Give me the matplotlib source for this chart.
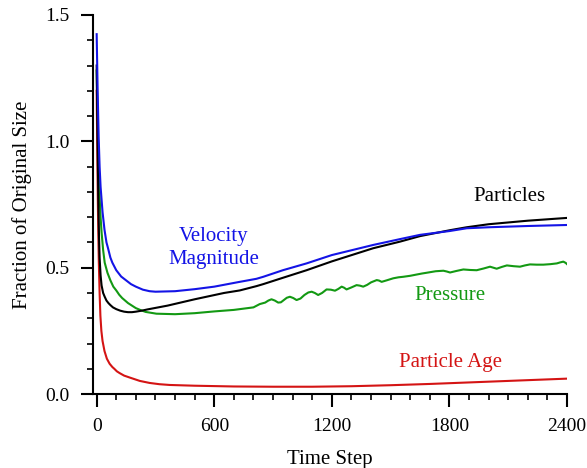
import matplotlib.pyplot as plt
from matplotlib.ticker import MultipleLocator

plt.rcParams['font.family'] = ['Liberation Serif', 'DejaVu Serif']

# Particles (black)
t_part = [0, 4, 8, 12, 15, 20, 25, 33, 41, 50, 60, 70, 83, 100, 120, 140, 160, 180, 200,
          230, 260, 362, 500, 650, 730, 815, 850, 950, 1071, 1200, 1411, 1547, 1650,
          1800, 1888, 2000, 2200, 2400]
v_part = [1.30, 1.05, 0.80, 0.62, 0.54, 0.47, 0.43, 0.40, 0.385, 0.37, 0.36, 0.352, 0.343,
          0.336, 0.33, 0.326, 0.324, 0.324, 0.326, 0.33, 0.335, 0.35, 0.375, 0.40, 0.41,
          0.427, 0.435, 0.46, 0.49, 0.525, 0.577, 0.603, 0.625, 0.648, 0.66, 0.672,
          0.686, 0.697]

# Velocity Magnitude (blue)
t_vel = [0, 5, 10, 15, 20, 24, 30, 40, 50, 57, 70, 80, 100, 125, 150, 175, 200, 236, 270,
         300, 400, 500, 600, 730, 815, 850, 950, 1071, 1200, 1411, 1547, 1650, 1800,
         1888, 2000, 2200, 2400]
v_vel = [1.424, 1.2, 1.02, 0.90, 0.82, 0.78, 0.72, 0.65, 0.60, 0.58, 0.54, 0.52, 0.49,
         0.465, 0.45, 0.435, 0.425, 0.413, 0.407, 0.405, 0.407, 0.415, 0.425, 0.444,
         0.456, 0.464, 0.49, 0.517, 0.55, 0.59, 0.613, 0.63, 0.645, 0.656, 0.66, 0.665,
         0.669]

# Pressure (green)
t_pres = [0, 5, 10, 15, 20, 25, 33, 41, 55, 70, 85, 100, 115, 130, 145, 160, 180, 200,
          225, 250, 305, 400, 500, 600, 700, 800, 832, 860, 876, 892, 909, 926, 940, 955,
          970, 986, 1003, 1020, 1040, 1060, 1080, 1097, 1113, 1130, 1150, 1173, 1195,
          1216, 1233, 1250, 1262, 1275, 1300, 1326, 1343, 1360, 1380, 1400, 1429, 1441,
          1454, 1480, 1513, 1540, 1564, 1600, 1633, 1660, 1684, 1730, 1769, 1786, 1803,
          1835, 1871, 1905, 1939, 1975, 2007, 2024, 2041, 2067, 2093, 2127, 2160, 2185,
          2211, 2245, 2279, 2315, 2348, 2365, 2381, 2393, 2400]
v_pres = [1.28, 1.05, 0.90, 0.78, 0.70, 0.64, 0.57, 0.52, 0.48, 0.45, 0.425, 0.41, 0.393,
          0.38, 0.37, 0.36, 0.35, 0.34, 0.332, 0.325, 0.318, 0.316, 0.32, 0.327, 0.333,
          0.343, 0.356, 0.362, 0.370, 0.375, 0.370, 0.362, 0.363, 0.372, 0.381, 0.385,
          0.380, 0.372, 0.378, 0.392, 0.402, 0.405, 0.400, 0.392, 0.400, 0.414, 0.413,
          0.409, 0.416, 0.425, 0.421, 0.414, 0.422, 0.431, 0.429, 0.425, 0.432, 0.442,
          0.451, 0.449, 0.444, 0.450, 0.458, 0.462, 0.464, 0.468, 0.473, 0.477, 0.480,
          0.486, 0.488, 0.485, 0.481, 0.487, 0.493, 0.491, 0.490, 0.497, 0.504, 0.500,
          0.496, 0.503, 0.509, 0.506, 0.504, 0.509, 0.513, 0.512, 0.512, 0.514, 0.517,
          0.521, 0.524, 0.519, 0.514]

# Particle Age (red)
t_age = [0, 2, 4, 6, 8, 11, 15, 19, 24, 30, 40, 52, 66, 80, 90, 103, 117, 140, 170, 220,
         270, 320, 372, 500, 700, 900, 1100, 1300, 1500, 1700, 1900, 2100, 2300, 2400]
v_age = [1.20, 1.05, 0.90, 0.76, 0.65, 0.52, 0.40, 0.31, 0.25, 0.21, 0.17, 0.14, 0.12,
         0.107, 0.10, 0.09, 0.083, 0.073, 0.065, 0.052, 0.044, 0.039, 0.036, 0.033, 0.03,
         0.029, 0.029, 0.031, 0.035, 0.04, 0.046, 0.052, 0.058, 0.061]

BLACK = '#000000'
BLUE = '#1414e6'
GREEN = '#139913'
RED = '#d41414'

fig = plt.figure(figsize=(5.87, 4.68), dpi=100)
ax = fig.add_axes([0.158, 0.158, 0.808, 0.81])

ax.plot(t_pres, v_pres, color=GREEN, lw=1.5)
ax.plot(t_age, v_age, color=RED, lw=1.5)
ax.plot(t_part, v_part, color=BLACK, lw=1.5)
ax.plot(t_vel, v_vel, color=BLUE, lw=1.5)

ax.text(2104, 0.78, 'Particles', color=BLACK, fontsize=15, ha='center', va='center')
ax.text(597, 0.578, 'Velocity\nMagnitude', color=BLUE, fontsize=15, ha='center',
        va='center', linespacing=1.35)
ax.text(1803, 0.39, 'Pressure', color=GREEN, fontsize=15, ha='center', va='center')
ax.text(1803, 0.124, 'Particle Age', color=RED, fontsize=15, ha='center', va='center')

ax.set_xlim(-20, 2400)
ax.set_ylim(0, 1.5)
ax.set_xticks([0, 600, 1200, 1800, 2400])
ax.set_yticks([0.0, 0.5, 1.0, 1.5])
ax.set_yticklabels(['0.0', '0.5', '1.0', '1.5'])
ax.xaxis.set_minor_locator(MultipleLocator(100))
ax.yaxis.set_minor_locator(MultipleLocator(0.1))

ax.spines['top'].set_visible(False)
ax.spines['right'].set_visible(False)
for s in ['left', 'bottom']:
    ax.spines[s].set_linewidth(1.5)
ax.tick_params(which='major', length=9, width=1.5, labelsize=14, direction='out', pad=8)
ax.tick_params(which='minor', length=4.5, width=1.2, direction='out')

ax.set_xlabel('Time Step', fontsize=15, labelpad=11)
ax.set_ylabel('Fraction of Original Size', fontsize=15, labelpad=9)

fig.savefig('out.png', dpi=100)
